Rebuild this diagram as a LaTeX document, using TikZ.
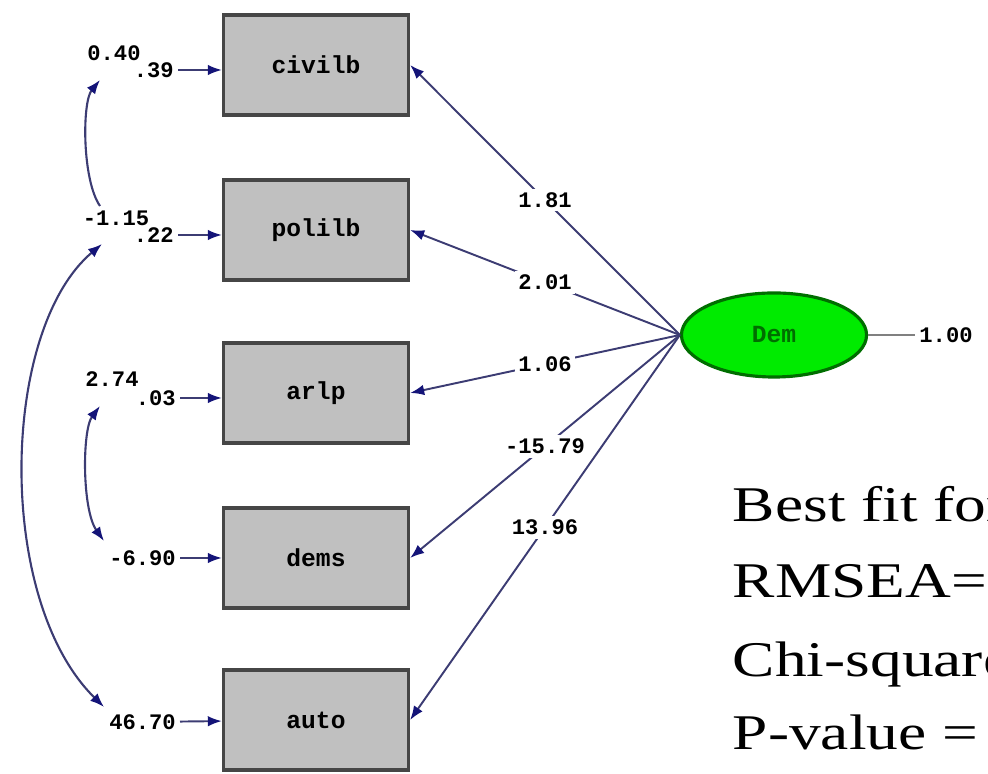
\documentclass[tikz,border=0pt]{standalone}
\usepackage{fontspec}
\setmainfont{Liberation Serif}
\newfontfamily\monofont{Liberation Mono}
\usetikzlibrary{arrows.meta,shapes.geometric}

\definecolor{boxgray}{RGB}{192,192,192}
\definecolor{boxedge}{RGB}{70,70,70}
\definecolor{linkblue}{RGB}{60,60,115}
\definecolor{tipblue}{RGB}{20,20,120}
\definecolor{demgreen}{RGB}{0,235,0}
\definecolor{demedge}{RGB}{0,110,0}

\tikzset{
  obs/.style={rectangle,draw=boxedge,fill=boxgray,line width=0.9pt,
    minimum width=1.85cm,minimum height=1.0cm,
    font=\monofont\bfseries\fontsize{7}{8}\selectfont},
  lat/.style={ellipse,draw=demedge,fill=demgreen,line width=0.9pt,
    minimum width=1.85cm,minimum height=0.84cm,text=demedge,
    font=\monofont\bfseries\fontsize{7}{8}\selectfont},
  coef/.style={font=\monofont\bfseries\fontsize{6.3}{7}\selectfont,inner sep=1pt},
  load/.style={draw=linkblue,line width=0.55pt,
    -{Latex[length=4pt,width=3pt,color=tipblue]}},
  cov/.style={draw=linkblue,line width=0.6pt,
    {Latex[length=4pt,width=3pt,color=tipblue]}-{Latex[length=4pt,width=3pt,color=tipblue]}},
  covtop/.style={draw=linkblue,line width=0.6pt,
    {Latex[length=4pt,width=3pt,color=tipblue]}-},
  fittext/.style={font=\fontsize{14.2}{17}\selectfont,anchor=base west,
    inner sep=0pt,xscale=1.27}
}

\begin{document}
\begin{tikzpicture}[x=0.01cm,y=-0.01cm]
  \useasboundingbox (0,0) rectangle (988,774);

  % observed variables
  \node[obs] (civilb) at (316,65) {civilb};
  \node[obs] (polilb) at (316,230) {polilb};
  \node[obs] (arlp) at (316,393) {arlp};
  \node[obs] (dems) at (316,558) {dems};
  \node[obs] (auto) at (316,720) {auto};

  % latent
  \node[lat] (Dem) at (774,335) {Dem};
  \node[coef] (dvar) at (946,335) {1.00};
  \draw[gray,line width=0.4pt] (Dem.east) -- (dvar.west);

  % loadings
  \draw[load] (Dem.west) -- node[coef,fill=white] {1.81} (civilb.east);
  \draw[load] (Dem.west) -- node[coef,fill=white] {2.01} (polilb.east);
  \draw[load] (Dem.west) -- node[coef,fill=white] {1.06} (arlp.east);
  \draw[load] (Dem.west) -- node[coef,fill=white] {-15.79} (dems.east);
  \draw[load] (Dem.west) -- node[coef,fill=white] {13.96} (auto.east);

  % error terms
  \node[coef,anchor=east] (err1) at (178,70) {.39};
  \node[coef,anchor=east] (err2) at (178,235) {.22};
  \node[coef,anchor=east] (err3) at (180,398) {.03};
  \node[coef,anchor=east] (err4) at (180,558) {-6.90};
  \node[coef,anchor=east] (err5) at (180,722) {46.70};
  \draw[load] (err1) -- (civilb.west |- err1);
  \draw[load] (err2) -- (polilb.west |- err2);
  \draw[load] (err3) -- (arlp.west |- err3);
  \draw[load] (err4) -- (dems);
  \draw[load] (err5) -- (auto);

  % error covariances
  \node[coef] (cv1) at (114,53) {0.40};
  \node[coef] (cv2) at (116,218) {-1.15};
  \node[coef] (cv3) at (112,379) {2.74};
  \coordinate (v1a) at (100,80);
  \coordinate (v1b) at (100,206);
  \coordinate (v2a) at (102,244);
  \coordinate (v2b) at (104,707);
  \coordinate (v3a) at (100,406);
  \coordinate (v3b) at (104,541);
  \draw[covtop] (v1a) .. controls (82,102) and (82,180) .. (v1b);
  \draw[cov] (v2a) .. controls (0,330) and (-5,600) .. (v2b);
  \draw[cov] (v3a) .. controls (82,430) and (82,510) .. (v3b);

  % fit statistics
  \node[fittext] (fit1) at (732,522) {Best fit for};
  \node[fittext] (fit2) at (732,598) {RMSEA=};
  \node[fittext] (fit3) at (732,677) {Chi-square};
  \node[fittext] (fit4) at (732,750) {P-value =};
\end{tikzpicture}
\end{document}
